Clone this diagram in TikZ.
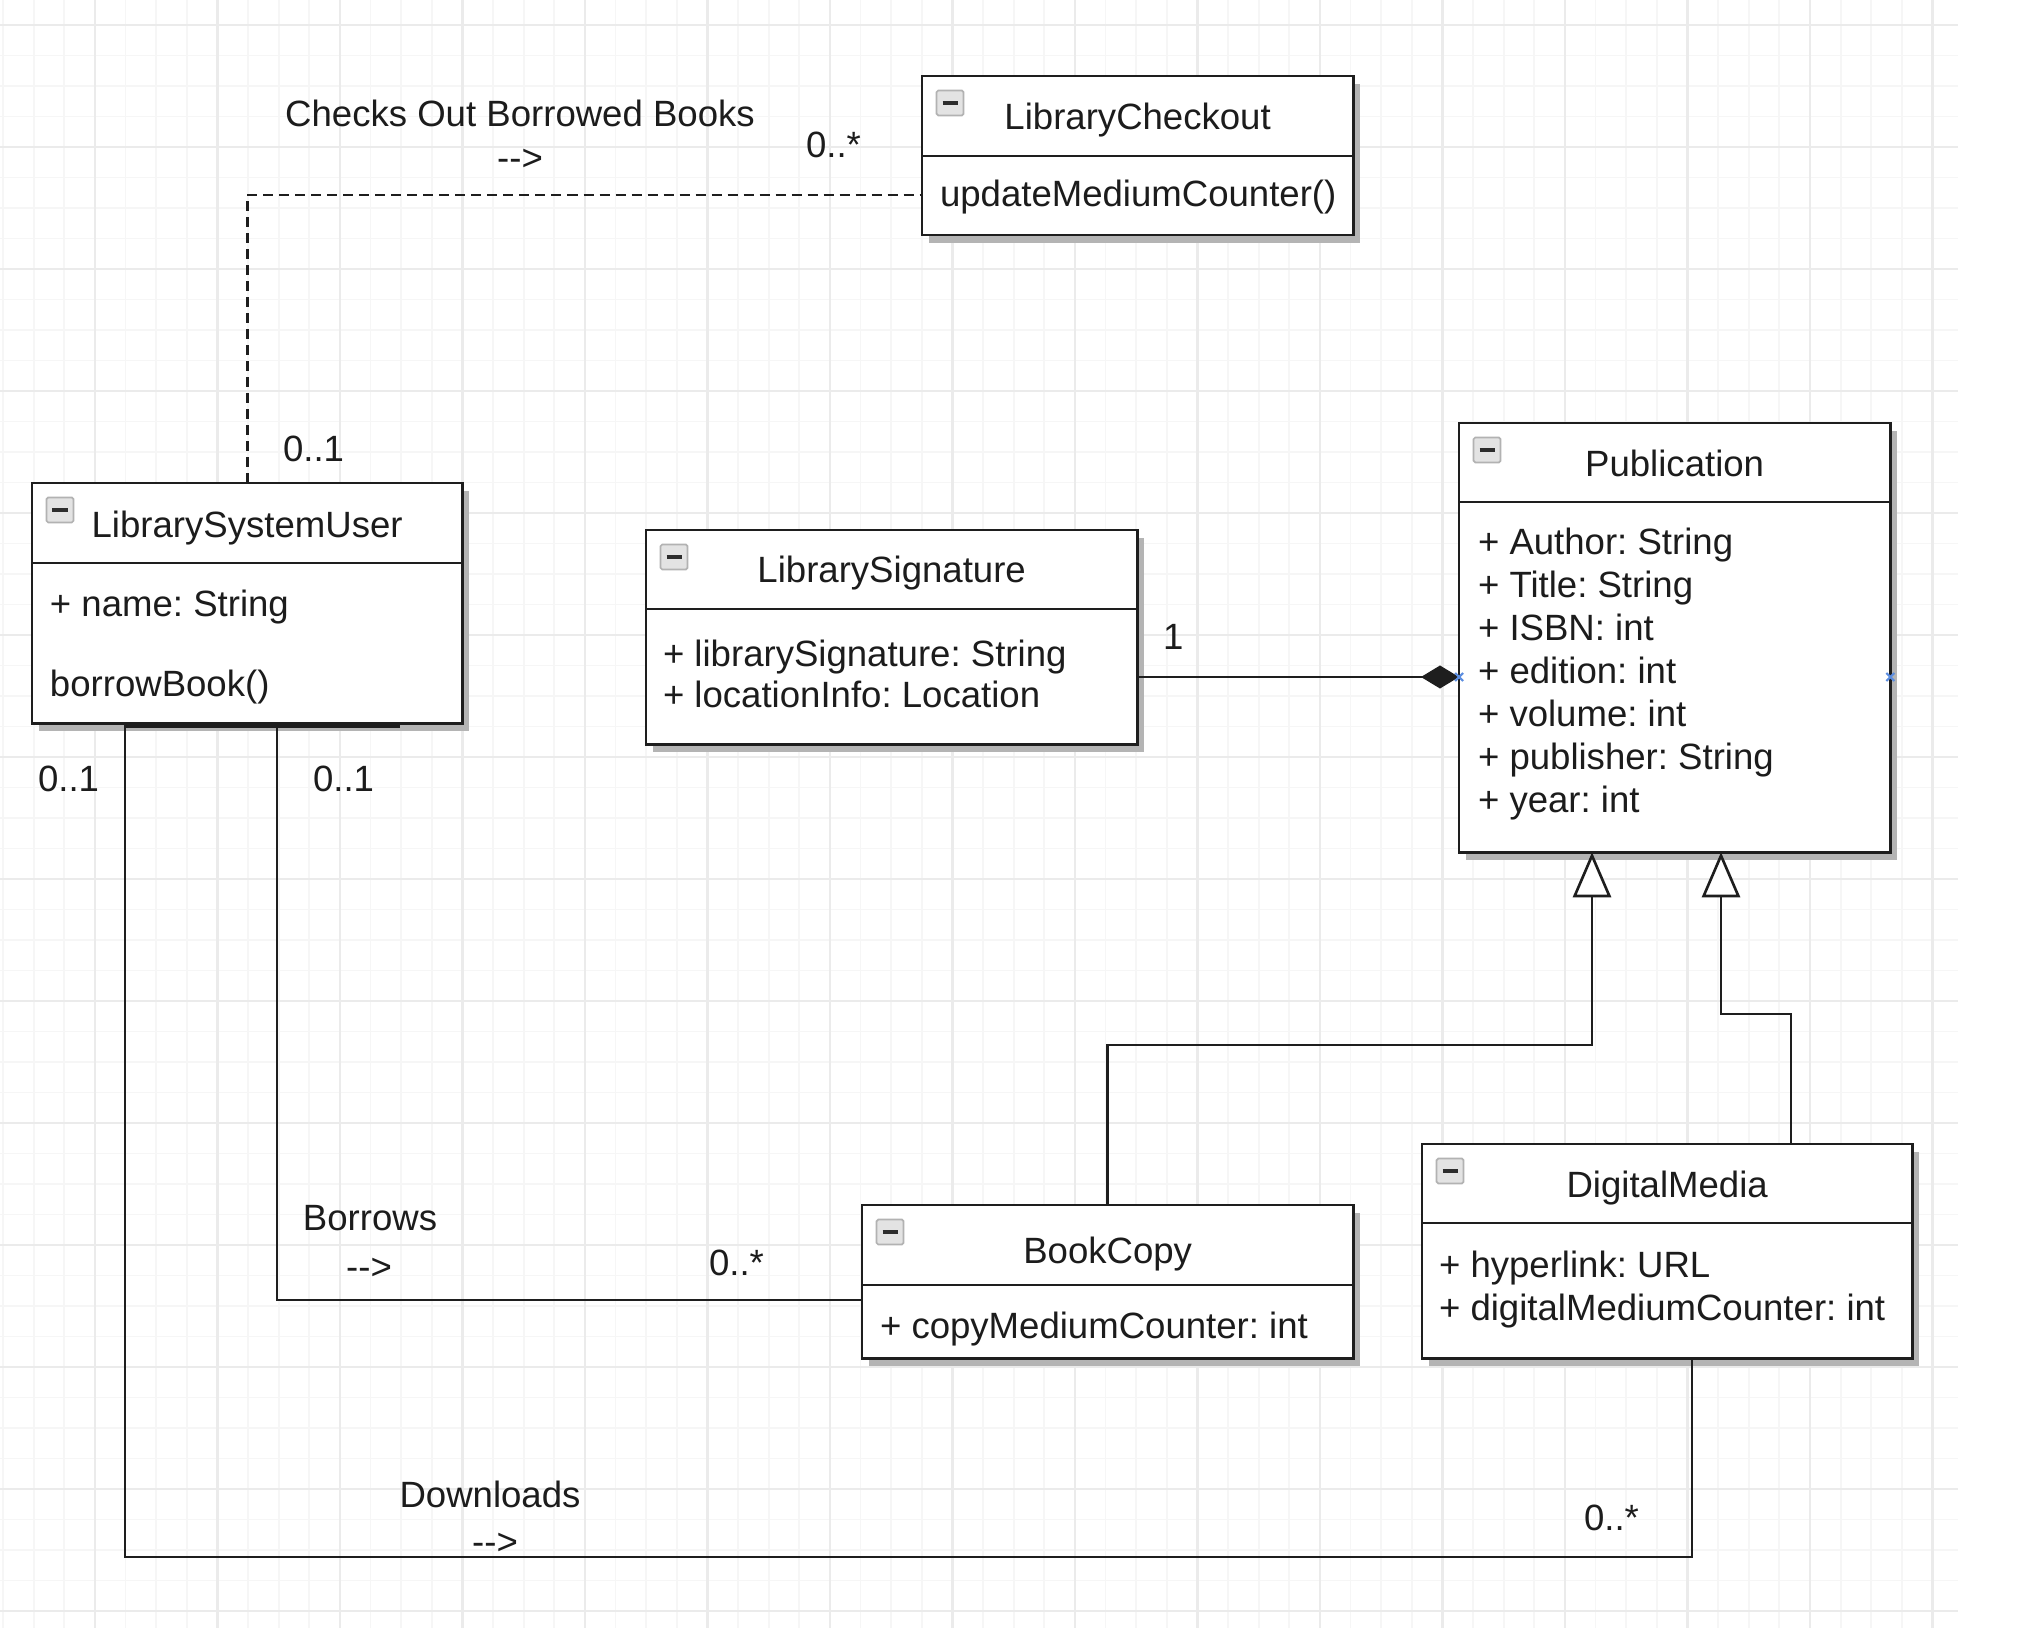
\documentclass[tikz,border=0pt]{standalone}
\usepackage{fontspec}
\setmainfont{Liberation Sans}
\frenchspacing
\usetikzlibrary{arrows.meta,shadows}
\definecolor{ink}{HTML}{1C1C1C}
\definecolor{boxline}{HTML}{1E1E1E}
\definecolor{gridminor}{HTML}{F6F6F6}
\definecolor{gridmajor}{HTML}{EBEBEB}
\definecolor{shadowgray}{HTML}{B4B4B4}
\definecolor{markblue}{HTML}{5B8DE0}
\tikzset{
 every node/.style={inner sep=0pt, outer sep=0pt},
 txt/.style={font=\fontsize{10.4pt}{12.5pt}\selectfont, text=ink},
 classbox/.style={draw=boxline, line width=0.8pt, fill=white, anchor=north west,
   drop shadow={shadow xshift=0.07cm, shadow yshift=-0.08cm, fill=shadowgray, opacity=1}},
 divider/.style={draw=boxline, line width=0.8pt},
 icon/.style={draw=gray!60, fill=gray!22, minimum width=0.27cm, minimum height=0.25cm,
   rounded corners=0.5pt, line width=0.5pt,
   path picture={\draw[gray!35!black, line width=1.1pt]
     ([xshift=-0.075cm]path picture bounding box.center) -- ([xshift=0.075cm]path picture bounding box.center);}},
 assoc/.style={draw=boxline, line width=0.75pt},
 depend/.style={draw=boxline, line width=0.8pt, dash pattern=on 0.1cm off 0.06cm},
 gen/.style={assoc, -{Triangle[open, fill=white, length=0.45cm, width=0.38cm, line width=0.75pt]}},
 comp/.style={assoc, -{Diamond[length=0.38cm, width=0.23cm]}},
 gridminorline/.style={draw=gridminor, line width=0.5pt},
 gridmajorline/.style={draw=gridmajor, line width=0.6pt},
 bluemark/.style={draw=markblue, line width=0.6pt},
}
\begin{document}
\begin{tikzpicture}[x=0.01cm, y=-0.01cm]
\useasboundingbox (0,0) rectangle (2033,1628);
\fill[white] (0,0) rectangle (2033,1628);
% grid
\foreach \i in {0,...,63} \draw[gridminorline] ({3.1+30.625*\i},0) -- ({3.1+30.625*\i},1628);
\foreach \j in {0,...,52} \draw[gridminorline] (0,{25+30.5*\j}) -- (1958,{25+30.5*\j});
\foreach \i in {0,...,15} \draw[gridmajorline] ({95+122.5*\i},0) -- ({95+122.5*\i},1628);
\foreach \j in {0,...,13} \draw[gridmajorline] (0,{25+122*\j}) -- (1958,{25+122*\j});

% class boxes
\node[classbox, minimum width=4.31cm, minimum height=1.59cm] (chk) at (922,76) {};
\node[classbox, minimum width=4.30cm, minimum height=2.40cm] (usr) at (32,483) {};
\node[classbox, minimum width=4.91cm, minimum height=2.14cm] (sig) at (646,530) {};
\node[classbox, minimum width=4.31cm, minimum height=4.29cm] (pub) at (1459,423) {};
\node[classbox, minimum width=4.91cm, minimum height=1.53cm] (book) at (862,1205) {};
\node[classbox, minimum width=4.90cm, minimum height=2.14cm] (dm) at (1422,1144) {};

% dividers
\draw[divider] (chk.west |- 0,156) -- (chk.east |- 0,156);
\draw[divider] (usr.west |- 0,563) -- (usr.east |- 0,563);
\draw[divider] (sig.west |- 0,609) -- (sig.east |- 0,609);
\draw[divider] (pub.west |- 0,502) -- (pub.east |- 0,502);
\draw[divider] (book.west |- 0,1285) -- (book.east |- 0,1285);
\draw[divider] (dm.west |- 0,1223) -- (dm.east |- 0,1223);

% collapse icons
\node[icon] (chkI) at (950,103) {};
\node[icon] (usrI) at (60,510) {};
\node[icon] (sigI) at (674,557) {};
\node[icon] (pubI) at (1487,450) {};
\node[icon] (bookI) at (890,1232) {};
\node[icon] (dmI) at (1450,1171) {};

% class texts
\node[txt, anchor=base] (chkT) at (chk.north |- 0,130) {LibraryCheckout};
\node[txt, anchor=base west] (chkM) at (940,207) {updateMediumCounter()};
\node[txt, anchor=base] (usrT) at (usr.north |- 0,538) {LibrarySystemUser};
\node[txt, anchor=base west] (usrA) at (50,617) {+ name: String};
\node[txt, anchor=base west] (usrM) at (50,697) {borrowBook()};
\node[txt, anchor=base] (sigT) at (sig.north |- 0,583) {LibrarySignature};
\node[txt, anchor=base west] (sigA1) at (663,667) {+ librarySignature: String};
\node[txt, anchor=base west] (sigA2) at (663,708) {+ locationInfo: Location};
\node[txt, anchor=base] (pubT) at (pub.north |- 0,477) {Publication};
\node[txt, anchor=base west] (pubA1) at (1478,555) {+ Author: String};
\node[txt, anchor=base west] (pubA2) at (1478,598) {+ Title: String};
\node[txt, anchor=base west] (pubA3) at (1478,641) {+ ISBN: int};
\node[txt, anchor=base west] (pubA4) at (1478,684) {+ edition: int};
\node[txt, anchor=base west] (pubA5) at (1478,727) {+ volume: int};
\node[txt, anchor=base west] (pubA6) at (1478,770) {+ publisher: String};
\node[txt, anchor=base west] (pubA7) at (1478,813) {+ year: int};
\node[txt, anchor=base] (bookT) at (book.north |- 0,1263) {BookCopy};
\node[txt, anchor=base west] (bookA) at (880,1338) {+ copyMediumCounter: int};
\node[txt, anchor=base] (dmT) at (dm.north |- 0,1197) {DigitalMedia};
\node[txt, anchor=base west] (dmA1) at (1439,1277) {+ hyperlink: URL};
\node[txt, anchor=base west] (dmA2) at (1439,1320) {+ digitalMediumCounter: int};

% connectors
\draw[depend] (usr.north) |- (chk.west |- 0,195);
\draw[comp] (sig.east |- 0,677) -- (pub.west |- 0,677);
\draw[gen] (book.north) |- (1592,1045) -- (1592,0 |- pub.south);
\draw[gen] (1791,0 |- dm.north) |- (1721,1014) -- (1721,0 |- pub.south);
\draw[assoc] (277,0 |- usr.south) |- (book.west |- 0,1300);
\draw[assoc] (125,0 |- usr.south) |- (1692,1557) -- (1692,0 |- dm.south);
\draw[boxline, line width=1.3pt] (125,726) -- (400,726);

% connection markers
\draw[bluemark] (pub.west |- 0,677) +(-4,-4) -- +(4,4) +(-4,4) -- +(4,-4);
\draw[bluemark] (pub.east |- 0,677) +(-4,-4) -- +(4,4) +(-4,4) -- +(4,-4);

% labels
\node[txt, anchor=base] (lblChk) at (520,127) {Checks Out Borrowed Books};
\node[txt, anchor=base] (lblChkA) at (520,171) {-{}->};
\node[txt, anchor=base west] (mChk) at (806,158) {0..*};
\node[txt, anchor=base west] (mUsrTop) at (283,462) {0..1};
\node[txt, anchor=base west] (mUsrL) at (38,792) {0..1};
\node[txt, anchor=base west] (mUsrR) at (313,792) {0..1};
\node[txt, anchor=base west] (mSig) at (1163,650) {1};
\node[txt, anchor=base] (lblBor) at (370,1230) {Borrows};
\node[txt, anchor=base] (lblBorA) at (369,1279) {-{}->};
\node[txt, anchor=base west] (mBook) at (709,1275) {0..*};
\node[txt, anchor=base] (lblDl) at (490,1507) {Downloads};
\node[txt, anchor=base] (lblDlA) at (495,1554) {-{}->};
\node[txt, anchor=base west] (mDm) at (1584,1530) {0..*};
\end{tikzpicture}
\end{document}
